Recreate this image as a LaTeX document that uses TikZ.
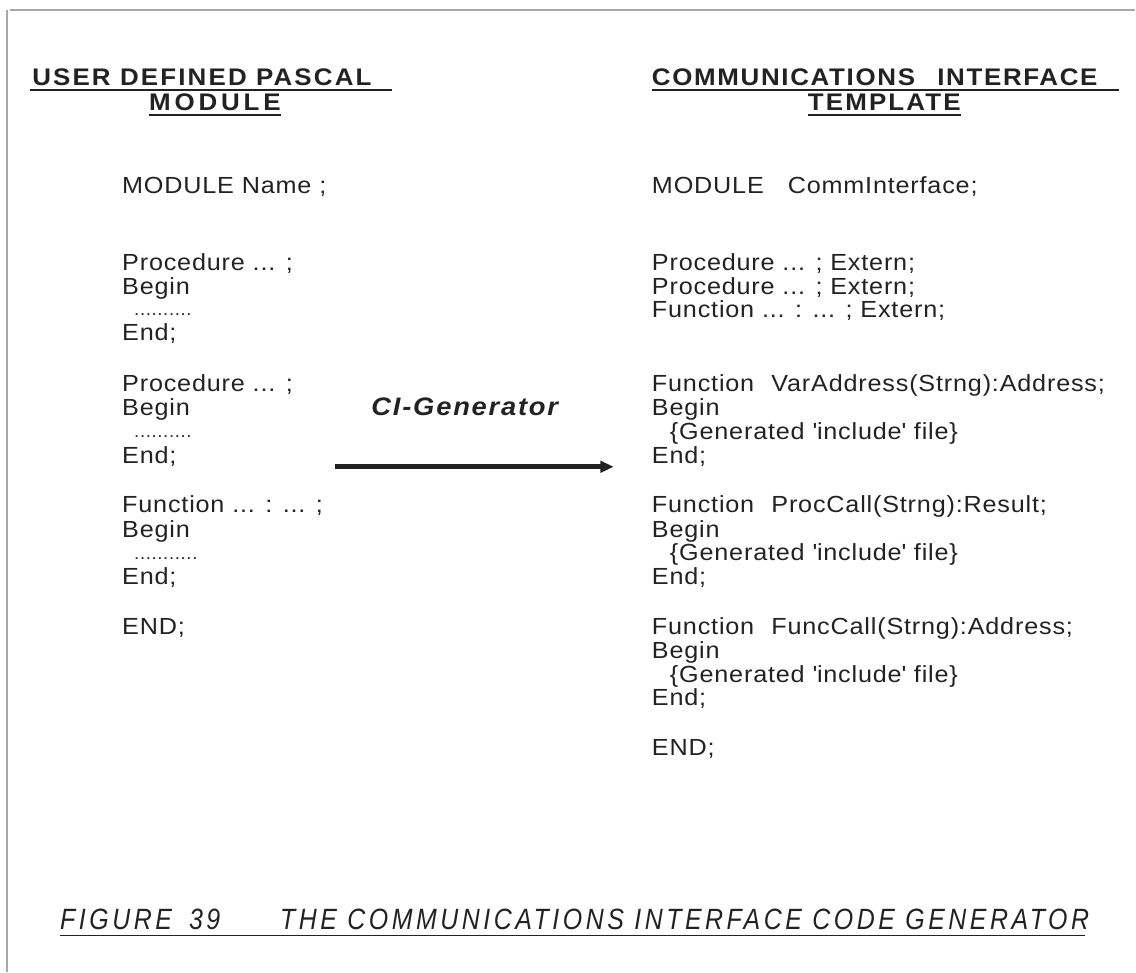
\documentclass[tikz,border=0pt]{standalone}
\usepackage{fontspec}
\setmainfont{Liberation Sans}[FakeStretch=1.08,LetterSpace=3.5]
\newfontfamily\headfont{Liberation Sans}[FakeStretch=1.08,LetterSpace=9]
\newfontfamily\capfont{Liberation Sans}[FakeStretch=0.85,LetterSpace=12]
\usetikzlibrary{arrows.meta,calc}
\definecolor{ink}{HTML}{222222}
\definecolor{rulegray}{HTML}{A8A8A8}

\begin{document}
\begin{tikzpicture}[x=0.75pt,y=-0.75pt,
  code/.style={anchor=base west,inner sep=0pt,text=ink,font=\fontsize{17.5}{20}\selectfont},
  dotrow/.style={code,font=\fontsize{13}{15}\selectfont},
  head/.style={anchor=base west,inner sep=0pt,text=ink,font=\headfont\bfseries\fontsize{18}{21}\selectfont},
  gentext/.style={anchor=base,inner sep=0pt,text=ink,font=\bfseries\itshape\fontsize{19}{22}\selectfont\addfontfeature{LetterSpace=7}},
  captext/.style={anchor=base west,inner sep=0pt,text=ink,font=\capfont\itshape\fontsize{22}{26}\selectfont},
  uline/.style={draw=ink,line width=1.3pt},
  framerule/.style={draw=rulegray,line width=0.8pt},
  genarrow/.style={draw=ink,line width=3.5pt,-{Triangle[length=10pt,width=8.5pt]}}]

% page and frame
\fill[white] (0,0) rectangle (1136,972);
\draw[framerule] (10,10) -- (1136,10);
\draw[framerule] (7,10) -- (7,972);

% column headings
\node[head] (h1) at (32,86) {USER DEFINED PASCAL};
\node[head] (h2) at (149,111) {\addfontfeature{LetterSpace=16}MODULE};
\node[head] (h3) at (652,86) {\addfontfeature{LetterSpace=7}COMMUNICATIONS\hspace{10pt} INTERFACE};
\node[head] (h4) at (808,111) {TEMPLATE};
\draw[uline] ($(h1.base west)+(-2,4)$) -- ($(h1.base west)+(360,4)$);
\draw[uline] ($(h2.base west)+(0,4)$) -- ($(h2.base east)+(0,4)$);
\draw[uline] ($(h3.base west)+(0,4)$) -- ($(h3.base west)+(468,4)$);
\draw[uline] ($(h4.base west)+(0,4)$) -- ($(h4.base east)+(0,4)$);

% user module
\node[code] (l1) at (122,194) {MODULE Name ;};
\node[code] (l2) at (122,271) {Procedure ... ;};
\node[code] (l3) at (122,295) {Begin};
\node[dotrow] (l4) at (134,316) {..........};
\node[code] (l5) at (122,341) {End;};
\node[code] (l6) at (122,392) {Procedure ... ;};
\node[code] (l7) at (122,416) {Begin};
\node[dotrow] (l8) at (134,438) {..........};
\node[code] (l9) at (122,464) {End;};
\node[code] (l10) at (122,513) {Function ... : ... ;};
\node[code] (l11) at (122,538) {Begin};
\node[dotrow] (l12) at (134,560) {...........};
\node[code] (l13) at (122,585) {End;};
\node[code] (l14) at (122,635) {END;};

% interface template
\node[code] (r1) at (652,194) {MODULE\hspace{18pt}CommInterface;};
\node[code] (r2) at (652,271) {Procedure ... ; Extern;};
\node[code] (r3) at (652,295) {Procedure ... ; Extern;};
\node[code] (r4) at (652,318) {Function ... : ... ; Extern;};
\node[code] (r5) at (652,392) {Function\hspace{7pt} VarAddress(Strng):Address;};
\node[code] (r6) at (652,416) {Begin};
\node[code] (r7) at (670,440) {\{Generated \textquotesingle include\textquotesingle\ file\}};
\node[code] (r8) at (652,464) {End;};
\node[code] (r9) at (652,513) {Function\hspace{7pt} ProcCall(Strng):Result;};
\node[code] (r10) at (652,538) {Begin};
\node[code] (r11) at (670,561) {\{Generated \textquotesingle include\textquotesingle\ file\}};
\node[code] (r12) at (652,585) {End;};
\node[code] (r13) at (652,635) {Function\hspace{7pt} FuncCall(Strng):Address;};
\node[code] (r14) at (652,659) {Begin};
\node[code] (r15) at (670,683) {\{Generated \textquotesingle include\textquotesingle\ file\}};
\node[code] (r16) at (652,706) {End;};
\node[code] (r17) at (652,756) {END;};

% generator arrow
\node[gentext] (gen) at (465,416) {CI-Generator};
\coordinate (genL) at (335,467);
\coordinate (genR) at (614,467);
\draw[genarrow] (genL) -- (genR);

% caption
\node[captext] (c1) at (60,930) {FIGURE\hspace{5pt} 39};
\node[captext] (c2) at (280,930) {THE COMMUNICATIONS INTERFACE CODE GENERATOR};
\draw[uline] ($(c1.base west)+(0,6)$) -- ($(c2.base east)+(-4,6)$);
\end{tikzpicture}
\end{document}
